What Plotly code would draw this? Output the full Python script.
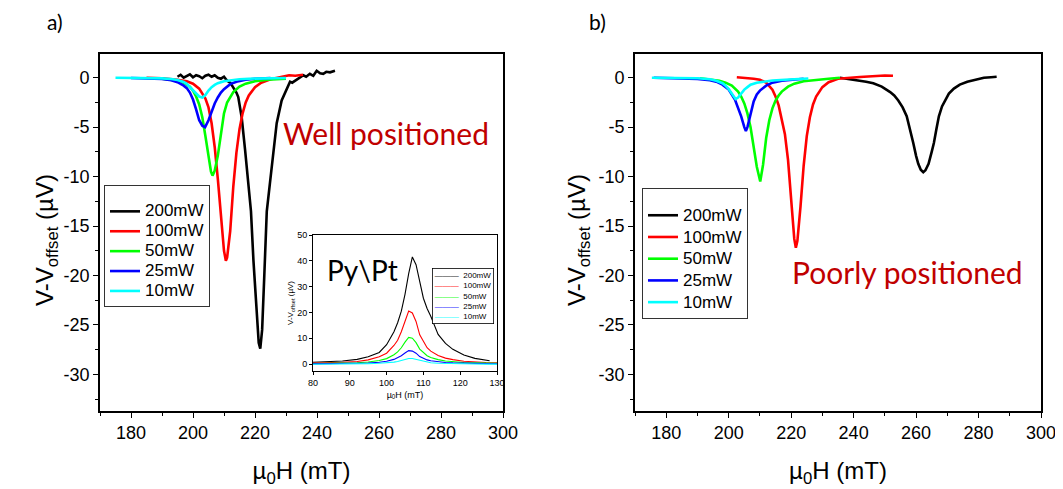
import plotly.graph_objects as go

# ---------------- data ----------------
names = ["200mW", "100mW", "50mW", "25mW", "10mW"]
colors = ["#000000", "#FF0000", "#00FF00", "#0000FF", "#00FFFF"]

# Panel a) "Well positioned"
a_black_x = [195, 196, 197, 198, 199, 200, 201, 202, 203, 204, 205, 206, 207, 208, 209, 210, 211, 212, 213, 214,
             214.6, 215.7, 216.8, 217.8, 218.7, 219.5, 220.5, 221.2, 221.7, 222.3, 223, 223.8, 224.8, 225.9, 227,
             228.6, 229.5, 230.2, 231.3, 232, 233.4, 234.5, 235.6, 236.5, 237.7, 238.8, 239.9, 241, 242, 243, 244.2, 245.8]
a_black_y = [0.1, 0.3, 0.0, 0.2, 0.35, 0.05, 0.25, 0.15, -0.05, 0.2, 0.3, 0.1, 0.25, 0.0, -0.1, 0.1, -0.3, -0.5, -1.0, -1.5,
             -1.95, -4.0, -7.3, -10.7, -13.5, -18.5, -24.0, -26.8, -27.4, -25.5, -20.0, -13.5, -10.7, -7.3, -4.6,
             -2.3, -1.6, -1.1, -0.4, -0.5, -0.2, 0.0, 0.25, 0.1, 0.4, 0.2, 0.7, 0.45, 0.4, 0.6, 0.55, 0.7]
a_red_x = [185, 190, 195, 198, 200, 202, 204, 205, 206, 207, 208, 209, 210, 210.6, 211, 212, 213, 214, 215, 216, 217, 218,
           220, 222, 225, 228, 231, 233, 235.5]
a_red_y = [0.0, -0.05, -0.2, -0.35, -0.6, -1.1, -2.1, -3.0, -4.6, -7.0, -10.2, -14.0, -17.5, -18.5, -18.2, -15.5, -11.0,
           -7.6, -5.2, -3.6, -2.5, -1.8, -0.95, -0.5, -0.15, 0.05, 0.25, 0.2, 0.3]
a_green_x = [190, 193, 195, 197, 199, 200, 201, 202, 203, 204, 205, 205.8, 206.3, 207, 208, 209, 210, 211, 212, 213, 215,
             217, 220, 224, 230]
a_green_y = [-0.1, -0.2, -0.3, -0.5, -0.9, -1.3, -1.9, -2.7, -4.0, -5.9, -8.0, -9.5, -9.9, -9.4, -7.9, -5.8, -3.6, -2.5,
             -1.9, -1.45, -0.9, -0.6, -0.35, -0.2, -0.1]
a_blue_x = [180, 185, 190, 193, 195, 197, 198, 199, 200, 201, 202, 203, 203.9, 205, 206, 207, 208, 209, 210, 212, 214, 217,
            220, 225]
a_blue_y = [-0.02, -0.05, -0.12, -0.25, -0.45, -0.8, -1.05, -1.5, -2.2, -3.2, -4.3, -4.85, -5.0, -4.3, -3.4, -2.6, -2.0,
            -1.5, -1.15, -0.65, -0.4, -0.2, -0.1, -0.03]
a_cyan_x = [175, 180, 185, 190, 193, 195, 197, 198, 199, 200, 201, 202, 203, 204, 205, 206, 207, 208, 210, 212, 215, 218,
            222, 226, 230]
a_cyan_y = [0, 0, -0.02, -0.06, -0.12, -0.22, -0.42, -0.62, -0.95, -1.3, -1.65, -1.9, -2.0, -1.75, -1.3, -0.95, -0.72,
            -0.55, -0.35, -0.24, -0.15, -0.1, -0.06, -0.03, -0.02]

# Panel b) "Poorly positioned"
b_black_x = [235.6, 238, 241, 244, 246.3, 249, 251.7, 253, 254.3, 255.7, 257, 258, 259.1, 260, 260.7, 261.5, 262.3, 263,
             264, 265, 265.7, 266.5, 267.3, 268.3, 269.4, 270.5, 272.1, 274, 276.4, 279, 281.7, 284, 285.8]
b_black_y = [0.0, -0.1, -0.23, -0.4, -0.56, -0.9, -1.45, -1.8, -2.3, -3.0, -3.9, -5.1, -6.6, -7.9, -8.7, -9.3, -9.55,
             -9.35, -8.7, -7.5, -6.6, -5.2, -3.9, -2.9, -2.3, -1.6, -1.1, -0.7, -0.4, -0.2, 0.0, 0.05, 0.1]
b_red_x = [202.6, 205, 208, 210, 212, 214, 215, 216, 217, 218, 219, 220, 221, 221.5, 222, 223, 224, 225, 226, 227, 228,
           230, 232, 235, 238, 242, 246, 250, 252.6]
b_red_y = [0.05, 0.0, -0.1, -0.2, -0.5, -1.2, -1.9, -2.8, -4.2, -5.7, -8.3, -12.3, -16.3, -17.2, -16.5, -13.0, -8.9,
           -5.9, -4.0, -2.7, -1.9, -0.95, -0.45, -0.1, 0.0, 0.08, 0.15, 0.23, 0.2]
b_green_x = [190.8, 194, 197, 199, 201, 203, 204, 205, 206, 207, 208, 209, 210.1, 211, 212, 213, 214, 215, 216, 217, 219,
             221, 224, 228, 232, 235.6]
b_green_y = [-0.05, -0.15, -0.3, -0.5, -0.8, -1.4, -1.9, -2.6, -3.6, -5.0, -6.9, -9.0, -10.5, -8.8, -6.1, -4.3, -3.1,
             -2.3, -1.8, -1.4, -0.9, -0.6, -0.35, -0.2, -0.1, 0.0]
b_blue_x = [176, 180, 185, 190, 194, 196, 198, 200, 202, 203, 204, 205, 205.5, 206, 207, 208, 209, 210, 212, 214, 217,
            220, 224]
b_blue_y = [0, -0.02, -0.05, -0.12, -0.25, -0.4, -0.7, -1.2, -2.2, -3.0, -3.9, -5.0, -5.4, -5.0, -3.7, -2.4, -1.7, -1.3,
            -0.8, -0.5, -0.3, -0.2, -0.1]
b_cyan_x = [175.4, 180, 185, 190, 194, 196, 198, 199, 200, 201, 202.2, 203, 204, 205, 206, 207, 209, 211, 214, 218, 222,
            225.5]
b_cyan_y = [0, 0, -0.02, -0.05, -0.15, -0.3, -0.55, -0.8, -1.15, -1.65, -2.15, -2.0, -1.6, -1.2, -0.95, -0.7, -0.5, -0.4,
            -0.28, -0.2, -0.12, -0.08]

# Inset: Py\Pt
ins_x = [80, 84, 88, 92, 95, 98, 100, 102, 103, 104, 105, 106, 107, 108, 109, 110, 111, 112, 114, 116, 118, 121, 124,
         127, 130]
ins_black_x = [80, 84, 88, 92, 95, 98, 100, 102, 103, 104, 105, 106, 107, 108, 109, 110, 111, 112, 114, 116, 118, 121,
               124, 128]
ins_black_y = [0.7, 0.9, 1.2, 1.8, 2.8, 4.5, 7.5, 12.5, 16, 20.5, 27, 35, 41.5, 38.5, 32, 25.5, 21.5, 18.5, 11.5, 8, 5.7,
               3.5, 2.2, 1.3]
ins_red_y = [0.4, 0.5, 0.7, 1.0, 1.6, 2.8, 4.2, 7.2, 9.2, 12.5, 16.8, 20.5, 19.8, 16.5, 11.3, 8.5, 6.3, 5.0, 3.3, 2.3,
             1.7, 1.1, 0.8, 0.6, 0.5]
ins_green_y = [0.2, 0.25, 0.35, 0.5, 0.8, 1.4, 2.1, 3.6, 4.7, 6.3, 8.5, 10.3, 10.0, 8.3, 5.8, 4.3, 3.2, 2.5, 1.7, 1.2,
               0.9, 0.6, 0.45, 0.35, 0.3]
ins_blue_y = [0.05, 0.1, 0.15, 0.25, 0.4, 0.7, 1.05, 1.8, 2.4, 3.2, 4.3, 5.2, 5.0, 4.2, 2.9, 2.2, 1.6, 1.25, 0.85, 0.6,
              0.45, 0.3, 0.2, 0.15, 0.1]
ins_cyan_y = [-0.1, -0.1, -0.05, 0.05, 0.15, 0.3, 0.45, 0.75, 1.0, 1.35, 1.8, 2.15, 2.15, 1.8, 1.3, 0.95, 0.7, 0.5, 0.3,
              0.2, 0.1, 0.05, 0, -0.05, -0.05]

main_xticks = [180, 200, 220, 240, 260, 280, 300]
main_yticks = [0, -5, -10, -15, -20, -25, -30]
main_yticklabels = ["0", "-5", "-10", "-15", "-20", "-25", "-30"]
inset_xticks = [80, 90, 100, 110, 120, 130]
inset_yticks = [0, 10, 20, 30, 40, 50]
y_title = "V-V<sub>offset</sub> (µV)"
x_title = "µ<sub>0</sub>H (mT)"

# ---------------- figure ----------------
W, H = 1063, 489
OFF = 8  # page body margin of the viewer
ARIAL = "Arial, 'Liberation Sans', sans-serif"
HUMAN = "Lato, 'Open Sans', sans-serif"


def fx(p):
    return (p - OFF) / W


def fy(p):
    return 1 - (p - OFF) / H


fig = go.Figure()

a_series = [(a_black_x, a_black_y), (a_red_x, a_red_y), (a_green_x, a_green_y), (a_blue_x, a_blue_y),
            (a_cyan_x, a_cyan_y)]
b_series = [(b_black_x, b_black_y), (b_red_x, b_red_y), (b_green_x, b_green_y), (b_blue_x, b_blue_y),
            (b_cyan_x, b_cyan_y)]
ins_series = [(ins_black_x, ins_black_y), (ins_x, ins_red_y), (ins_x, ins_green_y), (ins_x, ins_blue_y),
              (ins_x, ins_cyan_y)]

for (x, y), n, c in zip(a_series, names, colors):
    fig.add_trace(go.Scatter(x=x, y=y, mode="lines", line=dict(color=c, width=2.6),
                             name='<span style="font-size:17px">%s</span>' % n,
                             xaxis="x", yaxis="y", legend="legend"))
for (x, y), n, c in zip(b_series, names, colors):
    fig.add_trace(go.Scatter(x=x, y=y, mode="lines", line=dict(color=c, width=2.6),
                             name='<span style="font-size:17px">%s</span>' % n,
                             xaxis="x2", yaxis="y2", legend="legend2"))
for (x, y), n, c in zip(ins_series, names, colors):
    fig.add_trace(go.Scatter(x=x, y=y, mode="lines", line=dict(color=c, width=1.1),
                             name=n, showlegend=False, xaxis="x3", yaxis="y3"))

xdom_a = [fx(100), fx(503)]
xdom_b = [fx(635), fx(1041)]
ydom = [fy(411), fy(54)]
xr = [170, 300]
yr = [-33.7, 2.4]


def main_x(dom, anchor):
    return dict(domain=dom, range=xr, anchor=anchor, showline=True, mirror=True, linecolor="black", linewidth=1.7,
                ticks="outside", ticklen=5, tickwidth=1.3, tickcolor="black", tickvals=main_xticks,
                minor=dict(ticks="outside", ticklen=3, tickwidth=1.1, tickcolor="black", dtick=10, tick0=0),
                showgrid=False, zeroline=False, automargin=False,
                tickfont=dict(family=ARIAL, size=18, color="black"),
                title=dict(text=x_title, font=dict(family=ARIAL, size=24, color="black"), standoff=20))


def main_y(dom, anchor):
    return dict(domain=dom, range=yr, anchor=anchor, showline=True, mirror=True, linecolor="black", linewidth=1.7,
                ticks="outside", ticklen=5, tickwidth=1.3, tickcolor="black", tickvals=main_yticks,
                ticktext=main_yticklabels,
                minor=dict(ticks="outside", ticklen=3, tickwidth=1.1, tickcolor="black", dtick=2.5, tick0=0),
                showgrid=False, zeroline=False, automargin=False,
                tickfont=dict(family=ARIAL, size=18, color="black"))


def top_x(over, anchor):
    return dict(overlaying=over, side="top", anchor=anchor, range=xr, showline=False, ticks="inside", ticklen=5,
                tickwidth=1.3, tickcolor="black", tickvals=main_xticks, showticklabels=False, automargin=False,
                minor=dict(ticks="inside", ticklen=3, tickwidth=1.1, tickcolor="black", dtick=10, tick0=0),
                showgrid=False, zeroline=False)


def right_y(over, anchor):
    return dict(overlaying=over, side="right", anchor=anchor, range=yr, showline=False, ticks="inside", ticklen=5,
                tickwidth=1.3, tickcolor="black", tickvals=main_yticks, showticklabels=False, automargin=False,
                minor=dict(ticks="inside", ticklen=3, tickwidth=1.1, tickcolor="black", dtick=2.5, tick0=0),
                showgrid=False, zeroline=False)


def legend_box(px, py, fsize):
    return dict(x=fx(px), y=fy(py), bgcolor="white", bordercolor="#333333", borderwidth=1,
                font=dict(family=ARIAL, size=fsize, color="black"), xanchor="left", yanchor="top",
                tracegroupgap=0, title=dict(text=" ", font=dict(family=ARIAL, size=8)))


inset_legend_text = "<br>".join(
    '<span style="color:%s">———</span>  %s' % (c, n) for n, c in zip(names, colors))


def note(text, px, py, size, color="black", family=HUMAN, **kw):
    return dict(text=text, x=fx(px), y=fy(py), xref="paper", yref="paper", showarrow=False,
                xanchor="center", yanchor="middle", font=dict(family=family, size=size, color=color), **kw)


fig.update_layout(
    width=W, height=H, margin=dict(l=0, r=0, t=0, b=0, pad=0, autoexpand=False), autosize=False,
    paper_bgcolor="white", plot_bgcolor="white",
    xaxis=main_x(xdom_a, "y"), yaxis=main_y(ydom, "x"),
    xaxis2=main_x(xdom_b, "y2"), yaxis2=main_y(ydom, "x2"),
    xaxis4=top_x("x", "y"), yaxis4=right_y("y", "x"),
    xaxis5=top_x("x2", "y2"), yaxis5=right_y("y2", "x2"),
    xaxis3=dict(domain=[fx(313), fx(497)], range=[80, 130], anchor="y3", showline=True, mirror=True,
                linecolor="black", linewidth=1, ticks="outside", ticklen=3, tickcolor="black", tickvals=inset_xticks,
                showgrid=False, zeroline=False, automargin=False,
                tickfont=dict(family=ARIAL, size=9, color="black"),
                title=dict(text=x_title, font=dict(family=ARIAL, size=9, color="black"), standoff=4)),
    yaxis3=dict(domain=[fy(371), fy(235)], range=[-2.7, 50], anchor="x3", showline=True, mirror=True,
                linecolor="black", linewidth=1, ticks="outside", ticklen=3, tickcolor="black", tickvals=inset_yticks,
                showgrid=False, zeroline=False, automargin=False,
                tickfont=dict(family=ARIAL, size=9, color="black"),
                title=dict(text=y_title, font=dict(family=ARIAL, size=8, color="black"), standoff=2)),
    legend=legend_box(104, 185, 13),
    legend2=legend_box(642, 188, 14.4),
    showlegend=True,
    annotations=[
        note("a)", 55, 22, 21, borderpad=0),
        note("b)", 597, 22, 21, borderpad=0),
        note(y_title, 46, 240, 24, family=ARIAL, textangle=-90),
        note(y_title, 578, 240, 24, family=ARIAL, textangle=-90),
        note("Well positioned", 386, 133, 30, color="#C00000"),
        note("Poorly positioned", 907, 272, 30, color="#C00000"),
        note("Py\\Pt", 362, 270, 28),
        note(inset_legend_text, 463, 296, 8, family=ARIAL, align="left", bgcolor="white",
             bordercolor="black", borderwidth=0.8, borderpad=2),
    ],
)

fig.write_html("out.html")
